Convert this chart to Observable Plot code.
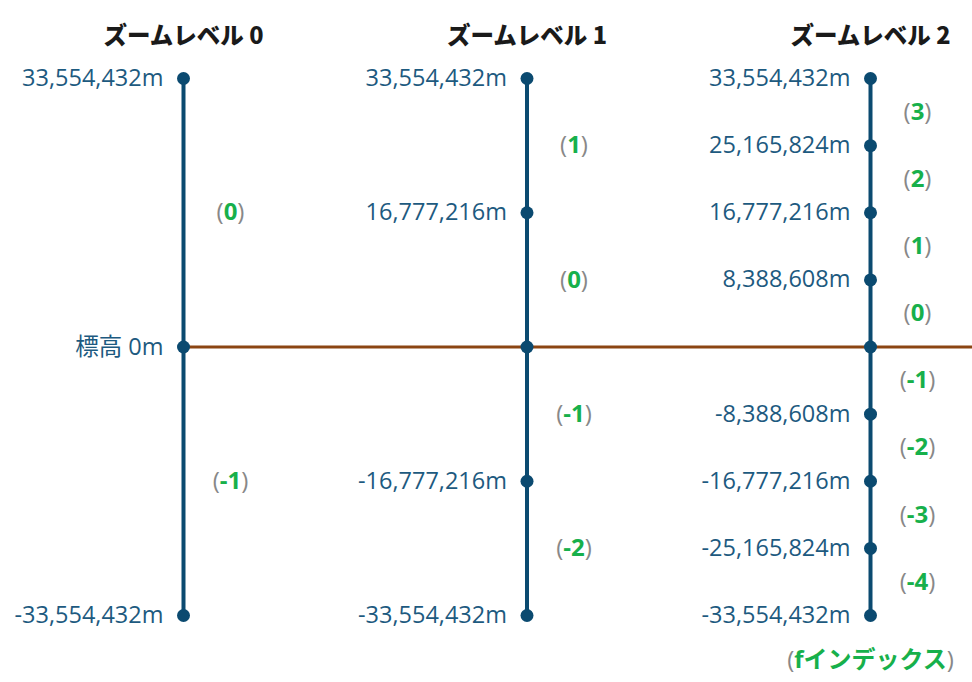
<!DOCTYPE html>
<html>
<head>
<meta charset="utf-8">
<script src="https://cdn.jsdelivr.net/npm/d3@7"></script>
<script src="https://cdn.jsdelivr.net/npm/@observablehq/plot@0.6"></script>
<style>
  html, body { margin: 0; padding: 0; background: #fff; }
  #chart svg { display: block; }
</style>
</head>
<body>
<div id="chart"></div>
<script>
// Zoom levels (x categories)
const levels = [0, 1, 2];
const levelTitles = ["ズームレベル 0", "ズームレベル 1", "ズームレベル 2"];

// Heights (m) of tile boundaries per zoom level
const level0Heights = [33554432, 0, -33554432];
const level1Heights = [33554432, 16777216, 0, -16777216, -33554432];
const level2Heights = [33554432, 25165824, 16777216, 8388608, 0, -8388608, -16777216, -25165824, -33554432];

// Boundary labels
const level0Labels = ["33,554,432m", "標高 0m", "-33,554,432m"];
const level1Labels = ["33,554,432m", "16,777,216m", "", "-16,777,216m", "-33,554,432m"];
const level2Labels = ["33,554,432m", "25,165,824m", "16,777,216m", "8,388,608m", "", "-8,388,608m", "-16,777,216m", "-25,165,824m", "-33,554,432m"];

// f index labels and their heights (tile centres)
const level0Index = ["0", "-1"];
const level0IndexHeights = [16777216, -16777216];
const level1Index = ["1", "0", "-1", "-2"];
const level1IndexHeights = [25165824, 8388608, -8388608, -25165824];
const level2Index = ["3", "2", "1", "0", "-1", "-2", "-3", "-4"];
const level2IndexHeights = [29360128, 20971520, 12582912, 4194304, -4194304, -12582912, -20971520, -29360128];

const axisLabel = "fインデックス";

const heightsByLevel = [level0Heights, level1Heights, level2Heights];
const labelsByLevel = [level0Labels, level1Labels, level2Labels];
const indexByLevel = [level0Index, level1Index, level2Index];
const indexHeightsByLevel = [level0IndexHeights, level1IndexHeights, level2IndexHeights];

const points = levels.flatMap((z) => heightsByLevel[z].map((h, i) => ({level: z, h, label: labelsByLevel[z][i]})));
const indexes = levels.flatMap((z) => indexByLevel[z].map((k, i) => ({level: z, h: indexHeightsByLevel[z][i], label: `(${k})`})));
const spans = levels.map((z) => ({level: z, lo: d3.min(heightsByLevel[z]), hi: d3.max(heightsByLevel[z])}));
const titles = levels.map((z) => ({level: z, title: levelTitles[z]}));

const lineColor = "#0b4a70";
const textColor = "#1d5a80";
const labelFont = "'Open Sans', 'Noto Sans CJK JP', sans-serif";

const chart = Plot.plot({
  width: 972,
  height: 682,
  margin: 0,
  x: {type: "linear", domain: [0, 2], range: [183, 870], axis: null},
  y: {type: "linear", domain: [-33554432, 33554432], range: [615, 78], axis: null},
  marks: [
    Plot.ruleY([0], {x1: 0, x2: 2.3, stroke: "#8b4513", strokeWidth: 3}),
    Plot.ruleX(spans, {x: "level", y1: "lo", y2: "hi", stroke: lineColor, strokeWidth: 4}),
    Plot.dot(points, {x: "level", y: "h", r: 6.5, fill: lineColor, stroke: "none"}),
    Plot.text(points, {x: "level", y: "h", text: "label", dx: -20, textAnchor: "end", fill: textColor, fontSize: 23.5, fontFamily: labelFont}),
    Plot.text(indexes, {x: "level", y: "h", text: "label", dx: 47, textAnchor: "middle", fill: "#888", fontSize: 24, fontFamily: labelFont}),
    Plot.text(titles, {x: "level", text: "title", frameAnchor: "top", dy: 27, textAnchor: "middle", fill: "#1a1a1a", fontSize: 23.5, fontWeight: 900, fontFamily: "'Noto Sans CJK JP', sans-serif"}),
    Plot.text([{level: 2, label: `(${axisLabel})`}], {x: "level", text: "label", frameAnchor: "bottom", dy: -15, textAnchor: "middle", fill: "#888", fontSize: 24, fontFamily: labelFont})
  ]
});

// Colour the content inside the parentheses green and bold
d3.select(chart).selectAll("text").each(function () {
  const t = this.textContent;
  if (!(t.startsWith("(") && t.endsWith(")"))) return;
  const inner = t.slice(1, -1);
  const sel = d3.select(this);
  sel.text(null);
  sel.append("tspan").attr("fill", "#888").text("(");
  sel.append("tspan").attr("fill", "#17b04b").attr("font-weight", "bold").text(inner);
  sel.append("tspan").attr("fill", "#888").text(")");
});

document.getElementById("chart").appendChild(chart);
</script>
</body>
</html>
